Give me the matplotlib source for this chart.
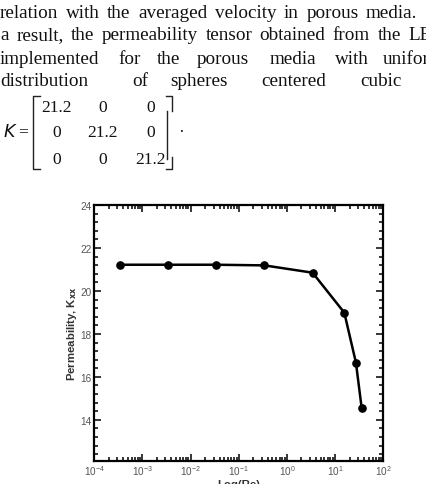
import matplotlib
matplotlib.use("Agg")
import matplotlib.pyplot as plt
from matplotlib.lines import Line2D
from matplotlib.ticker import LogLocator, MultipleLocator, NullFormatter
import numpy as np

# ---- data ----
reynolds = [3.4e-4, 3.4e-3, 3.4e-2, 0.34, 3.4, 15.5, 27.0, 35.6]
permeability = [21.22, 21.22, 21.22, 21.19, 20.85, 18.99, 16.67, 14.54]
y_ticks = [14, 16, 18, 20, 22, 24]

line1 = ["relation", "with", "the", "averaged", "velocity", "in", "porous", "media."]
line2 = ["a", "result,", "the", "permeability", "tensor", "obtained", "from", "the", "LBM"]
line3 = ["implemented", "for", "the", "porous", "media", "with", "uniform"]
line3_x = [0, 118, 157, 197, 270, 335, 383]
line4 = ["distribution", "of", "spheres", "centered", "cubic"]
line4_x = [0, 132, 170, 261, 360]
matrix_rows = [["21.2", "0", "0"], ["0", "21.2", "0"], ["0", "0", "21.2"]]

W, H = 427, 485
fig = plt.figure(figsize=(W / 100, H / 100), dpi=100)
renderer = fig.canvas.get_renderer()

def fx(x):
    return x / W

def fy(y):
    return 1 - y / H

serif = ["Liberation Serif", "DejaVu Serif"]
sans = ["Liberation Sans", "DejaVu Sans"]
fs_text = 13.8
fs_mat = 12.5
txt_kw = dict(family=serif, fontsize=fs_text, ha="left", va="baseline", color="#111111")

def justified(words, base, x0, anchor_idx, anchor_x):
    """Lay out words with equal gaps so that word[anchor_idx] starts at anchor_x."""
    texts = [fig.text(0, fy(base), w, **txt_kw) for w in words]
    widths = [t.get_window_extent(renderer).width for t in texts]
    used = sum(widths[:anchor_idx])
    gap = (anchor_x - x0 - used) / anchor_idx
    x = x0
    for t, w in zip(texts, widths):
        t.set_x(fx(x))
        x += w + gap

# line 1: "media." starts at ~366; line 2: last word starts at ~408
justified(line1, 17.5, 0.0, 7, 366)
justified(line2, 40.5, 0.5, 8, 408)
for words, xs, base in [(line3, line3_x, 63.5), (line4, line4_x, 86)]:
    for w, x in zip(words, xs):
        fig.text(fx(x), fy(base), w, **txt_kw)

# matrix
fig.text(fx(3), fy(137), "$K$ =", family=serif, fontsize=fs_mat, ha="left",
         va="baseline", color="#111111")
col_x = [57, 103, 151]
row_base = [112, 137, 163.5]
for r, row in enumerate(matrix_rows):
    for c, val in enumerate(row):
        fig.text(fx(col_x[c]), fy(row_base[r]), val, family=serif, fontsize=fs_mat,
                 ha="center", va="baseline", color="#111111")
fig.text(fx(178), fy(137), "·", family=serif, fontsize=fs_mat, ha="left",
         va="baseline", color="#111111")

bk = dict(color="#222222", lw=1.0, transform=fig.transFigure)
fig.add_artist(Line2D([fx(40), fx(33), fx(33), fx(40)],
                      [fy(97), fy(97), fy(170), fy(170)], **bk))
fig.add_artist(Line2D([fx(166), fx(172), fx(172)],
                      [fy(97), fy(97), fy(112)], **bk))
fig.add_artist(Line2D([fx(167), fx(167)], [fy(112), fy(160)], **bk))
fig.add_artist(Line2D([fx(172), fx(172), fx(166)],
                      [fy(158), fy(170), fy(170)], **bk))

# ---- chart ----
ax = fig.add_axes([94.3 / W, 1 - 461.7 / H, (383.3 - 94.3) / W, (461.7 - 206) / H])
ax.plot(reynolds, permeability, color="black", lw=1.8, marker="o",
        markersize=5.2, markerfacecolor="black", markeredgecolor="black")
ax.set_xscale("log")
ax.set_xlim(1e-4, 1e2)
ax.set_ylim(12.1, 24)
ax.set_yticks(y_ticks)
ax.yaxis.set_minor_locator(MultipleLocator(0.4))
ax.xaxis.set_major_locator(LogLocator(base=10, numticks=10))
ax.xaxis.set_minor_locator(LogLocator(base=10, subs=np.arange(2, 10), numticks=20))
ax.xaxis.set_minor_formatter(NullFormatter())

for s in ax.spines.values():
    s.set_linewidth(1.6)
ax.tick_params(which="both", direction="in", top=True, right=True, width=1.1,
               colors="black", labelcolor="#555555", labelsize=7.2, pad=2)
ax.tick_params(which="major", length=5)
ax.tick_params(which="minor", length=2.8)
for lab in ax.get_xticklabels() + ax.get_yticklabels():
    lab.set_family(sans)

ax.set_ylabel("Permeability, K$_{\\mathbf{xx}}$", fontsize=8.2, fontweight="bold",
              family=sans, color="#333333", labelpad=1)
ax.set_xlabel("Log(Re)", fontsize=8.2, fontweight="bold",
              family=sans, color="#333333", labelpad=1)

fig.savefig("out.png", dpi=100)
